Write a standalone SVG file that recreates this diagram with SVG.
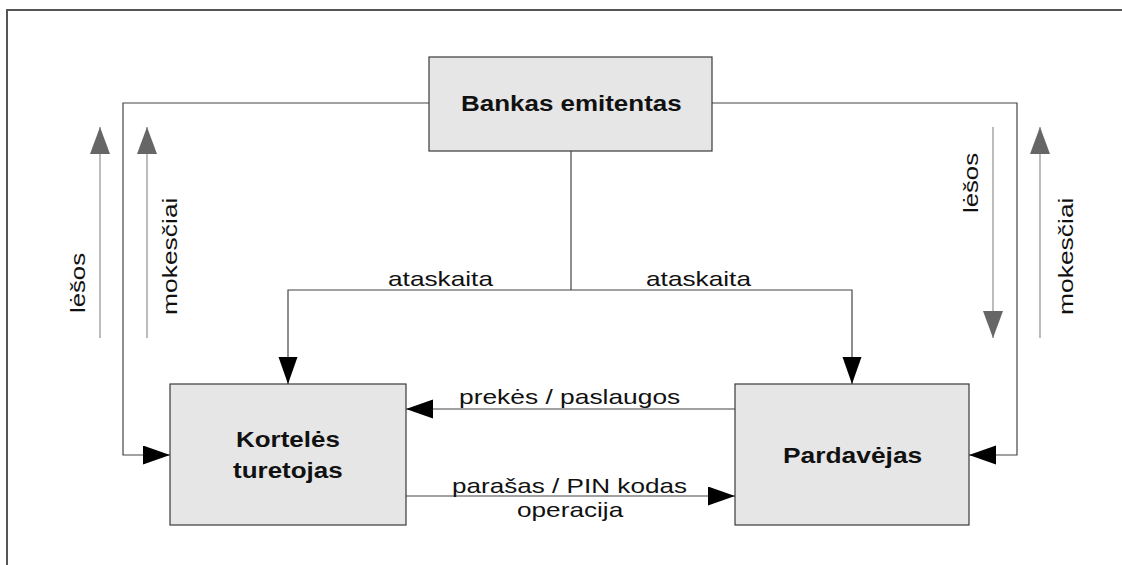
<svg xmlns="http://www.w3.org/2000/svg" width="1122" height="565" viewBox="0 0 1122 565">
<style>
.node{fill:#e6e6e6;stroke:#3a3a3a;stroke-width:1.2}
.bold{font-family:"Liberation Sans",Arial,sans-serif;font-weight:bold;font-size:22px;fill:#111}
.lbl{font-family:"Liberation Sans",Arial,sans-serif;font-size:21px;fill:#111}
.conn{fill:none;stroke:#444;stroke-width:1.2}
.flow{fill:none;stroke:#999;stroke-width:1.3}
</style>
<defs>
<marker id="ah" markerUnits="userSpaceOnUse" markerWidth="28" markerHeight="20" refX="27" refY="9.5" orient="auto">
<path d="M0,0 L27,9.5 L0,19 z" fill="#000"/>
</marker>
<marker id="gh" markerUnits="userSpaceOnUse" markerWidth="28" markerHeight="20" refX="27" refY="10" orient="auto">
<path d="M0,0 L27,10 L0,20 z" fill="#666"/>
</marker>
</defs>
<rect width="1122" height="565" fill="#fff"/>
<path d="M7,565 V10 H1122" fill="none" stroke="#555" stroke-width="2"/>

<g id="connectors">
<path class="conn" d="M429,103 H123 V455 H170" marker-end="url(#ah)"/>
<path class="conn" d="M712,103 H1017 V455 H969" marker-end="url(#ah)"/>
<path class="conn" d="M571,151 V290"/>
<path class="conn" d="M571,290 H288 V384" marker-end="url(#ah)"/>
<path class="conn" d="M571,290 H852 V384" marker-end="url(#ah)"/>
<path class="conn" d="M735,409 H406" marker-end="url(#ah)"/>
<path class="conn" d="M406,496 H735" marker-end="url(#ah)"/>
<text class="lbl" transform="translate(388,286) scale(1.25,1)" textLength="84" lengthAdjust="spacingAndGlyphs">ataskaita</text>
<text class="lbl" transform="translate(646,286) scale(1.25,1)" textLength="84" lengthAdjust="spacingAndGlyphs">ataskaita</text>
<text class="lbl" transform="translate(459,404) scale(1.25,1)" textLength="177" lengthAdjust="spacingAndGlyphs">prekės / paslaugos</text>
<text class="lbl" transform="translate(452,493) scale(1.25,1)" textLength="188" lengthAdjust="spacingAndGlyphs">parašas / PIN kodas</text>
<text class="lbl" transform="translate(517,517) scale(1.25,1)" textLength="85" lengthAdjust="spacingAndGlyphs">operacija</text>
</g>

<g id="flows">
<path class="flow" d="M100,338 V127" marker-end="url(#gh)"/>
<path class="flow" d="M147,338 V127" marker-end="url(#gh)"/>
<path class="flow" d="M993,127 V338" marker-end="url(#gh)"/>
<path class="flow" d="M1040,338 V127" marker-end="url(#gh)"/>
<text class="lbl" transform="translate(85,313) rotate(-90) scale(1.25,1)" textLength="48" lengthAdjust="spacingAndGlyphs">lėšos</text>
<text class="lbl" transform="translate(177,315) rotate(-90) scale(1.25,1)" textLength="94" lengthAdjust="spacingAndGlyphs">mokesčiai</text>
<text class="lbl" transform="translate(978,213) rotate(-90) scale(1.25,1)" textLength="48" lengthAdjust="spacingAndGlyphs">lėšos</text>
<text class="lbl" transform="translate(1073,315) rotate(-90) scale(1.25,1)" textLength="94" lengthAdjust="spacingAndGlyphs">mokesčiai</text>
</g>

<g id="bankas">
<rect class="node" x="429" y="57" width="283" height="94"/>
<text class="bold" transform="translate(461,111) scale(1.18,1)" textLength="187" lengthAdjust="spacingAndGlyphs">Bankas emitentas</text>
</g>
<g id="korteles">
<rect class="node" x="170" y="384" width="236" height="141"/>
<text class="bold" transform="translate(236,447) scale(1.18,1)" textLength="88" lengthAdjust="spacingAndGlyphs">Kortelės</text>
<text class="bold" transform="translate(233,478) scale(1.18,1)" textLength="93" lengthAdjust="spacingAndGlyphs">turetojas</text>
</g>
<g id="pardavejas">
<rect class="node" x="735" y="384" width="234" height="141"/>
<text class="bold" transform="translate(783,463) scale(1.18,1)" textLength="118" lengthAdjust="spacingAndGlyphs">Pardavėjas</text>
</g>
</svg>
